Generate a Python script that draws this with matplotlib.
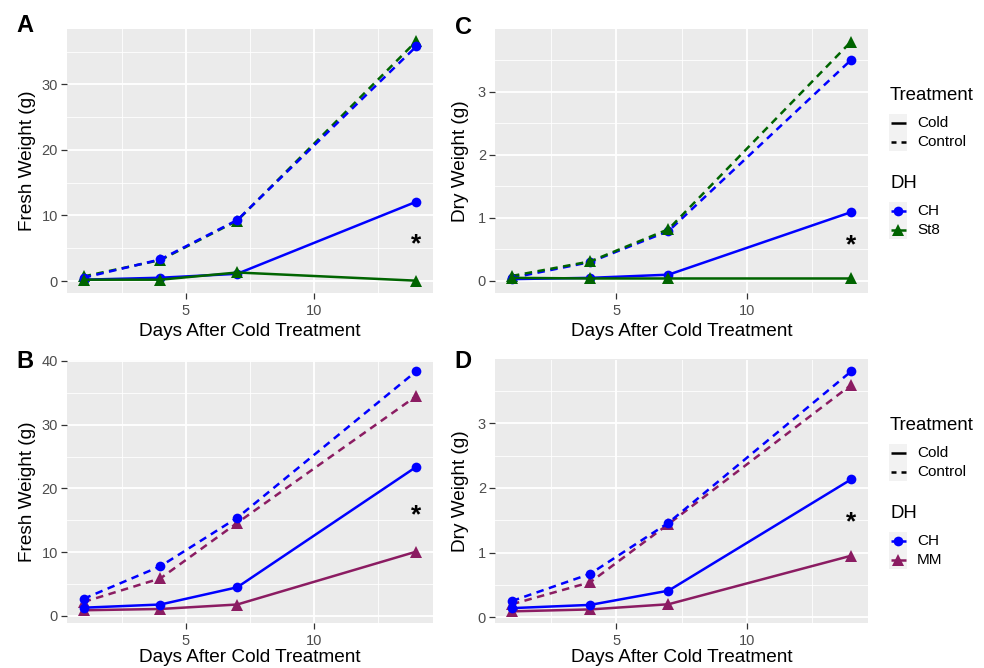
import matplotlib
matplotlib.use("Agg")
import matplotlib.pyplot as plt
from matplotlib.lines import Line2D
from matplotlib.patches import Rectangle

plt.rcParams['font.family'] = ['Liberation Sans', 'DejaVu Sans']

# ---------------- data ----------------
days = [1, 4, 7, 14]

# Panel A: Fresh weight, CH vs St8
A_CH_cold = [0.2, 0.5, 1.1, 12.1]
A_CH_control = [0.5, 3.3, 9.3, 35.8]
A_St8_cold = [0.2, 0.2, 1.3, 0.05]
A_St8_control = [0.7, 3.2, 9.2, 36.6]
A_star = 6.0

# Panel C: Dry weight, CH vs St8
C_CH_cold = [0.03, 0.05, 0.10, 1.09]
C_CH_control = [0.05, 0.30, 0.79, 3.50]
C_St8_cold = [0.05, 0.04, 0.04, 0.04]
C_St8_control = [0.08, 0.31, 0.82, 3.79]
C_star = 0.61

# Panel B: Fresh weight, CH vs MM
B_CH_cold = [1.3, 1.8, 4.5, 23.4]
B_CH_control = [2.7, 7.8, 15.4, 38.4]
B_MM_cold = [0.9, 1.1, 1.8, 10.1]
B_MM_control = [2.2, 5.9, 14.6, 34.5]
B_star = 16.2

# Panel D: Dry weight, CH vs MM
D_CH_cold = [0.14, 0.19, 0.41, 2.13]
D_CH_control = [0.25, 0.67, 1.46, 3.80]
D_MM_cold = [0.09, 0.12, 0.20, 0.95]
D_MM_control = [0.20, 0.54, 1.44, 3.59]
D_star = 1.5

treatments = ["Cold", "Control"]
dh_top = ["CH", "St8"]
dh_bottom = ["CH", "MM"]

BLUE = "#0000FF"
GREEN = "#006400"
MM_COL = "#8B1C62"

W, H = 984, 668
fig = plt.figure(figsize=(W / 100, H / 100), dpi=100)


def box(l, t, r, b):
    return [l / W, 1 - b / H, (r - l) / W, (b - t) / H]


def fx(x):
    return x / W


def fy(y):
    return 1 - y / H


LW = 1.8
DASH = (3.0, 2.2)
KEY_DASH = (2.0, 2.0)


def draw_series(ax, y, color, marker, dashed):
    ls = (0, DASH) if dashed else '-'
    ax.plot(days, y, color=color, lw=LW, linestyle=ls, marker=marker,
            markersize=7 if marker == 'o' else 8, markeredgewidth=0,
            solid_capstyle='butt', dash_capstyle='butt', zorder=3)


def style_axes(ax, ylim, yticks, yminor, ylabel, ylabel_x, xlabelpad=3.5):
    ax.set_facecolor('#EBEBEB')
    for s in ax.spines.values():
        s.set_visible(False)
    ax.set_xlim(0.35, 14.65)
    ax.set_ylim(*ylim)
    ax.set_xticks([5, 10])
    ax.set_xticks([2.5, 7.5, 12.5], minor=True)
    ax.set_yticks(yticks)
    ax.set_yticks(yminor, minor=True)
    ax.grid(True, which='major', color='white', lw=1.3)
    ax.grid(True, which='minor', color='white', lw=0.6)
    ax.set_axisbelow(True)
    ax.tick_params(which='major', length=4, width=0.9, color='#333333',
                   labelsize=10.5, labelcolor='#4D4D4D', pad=2.5)
    ax.tick_params(axis='x', which='major', pad=4.0)
    ax.tick_params(which='minor', length=0)
    ax.set_xlabel("Days After Cold Treatment", fontsize=13.7, labelpad=xlabelpad)
    ax.set_ylabel(ylabel, fontsize=13.7)
    ax.yaxis.set_label_coords(ylabel_x, 0.5)


def star(ax, y):
    ax.text(14, y, "*", fontsize=19, fontweight='bold', ha='center',
            va='center_baseline', color='black', zorder=4)


# Panel A
axA = fig.add_axes(box(67, 29, 433, 293))
style_axes(axA, (-1.83, 38.45), [0, 10, 20, 30], [5, 15, 25, 35],
           "Fresh Weight (g)", -0.085)
draw_series(axA, A_St8_control, GREEN, '^', True)
draw_series(axA, A_CH_control, BLUE, 'o', True)
draw_series(axA, A_CH_cold, BLUE, 'o', False)
draw_series(axA, A_St8_cold, GREEN, '^', False)
star(axA, A_star)

# Panel C
axC = fig.add_axes(box(495, 29, 868, 293))
style_axes(axC, (-0.19, 3.99), [0, 1, 2, 3], [0.5, 1.5, 2.5, 3.5],
           "Dry Weight (g)", -0.07)
draw_series(axC, C_CH_control, BLUE, 'o', True)
draw_series(axC, C_St8_control, GREEN, '^', True)
draw_series(axC, C_CH_cold, BLUE, 'o', False)
draw_series(axC, C_St8_cold, GREEN, '^', False)
star(axC, C_star)

# Panel B
axB = fig.add_axes(box(67, 360, 433, 623))
style_axes(axB, (-1.1, 40.15), [0, 10, 20, 30, 40], [5, 15, 25, 35],
           "Fresh Weight (g)", -0.085, xlabelpad=0.3)
draw_series(axB, B_MM_control, MM_COL, '^', True)
draw_series(axB, B_CH_control, BLUE, 'o', True)
draw_series(axB, B_MM_cold, MM_COL, '^', False)
draw_series(axB, B_CH_cold, BLUE, 'o', False)
star(axB, B_star)

# Panel D
axD = fig.add_axes(box(495, 359.5, 868, 623))
style_axes(axD, (-0.09, 3.985), [0, 1, 2, 3], [0.5, 1.5, 2.5, 3.5],
           "Dry Weight (g)", -0.07, xlabelpad=0.3)
draw_series(axD, D_MM_control, MM_COL, '^', True)
draw_series(axD, D_CH_control, BLUE, 'o', True)
draw_series(axD, D_MM_cold, MM_COL, '^', False)
draw_series(axD, D_CH_cold, BLUE, 'o', False)
star(axD, D_star)

# Panel letters
for letter, x, y in [("A", 25, 26), ("C", 463, 27), ("B", 25, 362), ("D", 463, 362)]:
    fig.text(fx(x), fy(y), letter, fontsize=17, fontweight='bold',
             ha='center', va='center')


# Legends
def legend(top, dh_labels, dh_colors, dh_markers):
    kx0, kx1 = 889, 907
    tx = 917
    fig.text(fx(890), fy(top), "Treatment", fontsize=13.4, ha='left', va='center')
    rows = [top + 27.5, top + 46]
    fig.patches.append(Rectangle((fx(kx0), fy(rows[1] + 9)), (kx1 - kx0) / W,
                                 (rows[1] - rows[0] + 18) / H,
                                 transform=fig.transFigure, facecolor='#F2F2F2',
                                 edgecolor='none'))
    for i, (lab, ry) in enumerate(zip(treatments, rows)):
        ls = '-' if i == 0 else (0, KEY_DASH)
        fig.add_artist(Line2D([fx(kx0 + 1.5), fx(kx1 - 1.5)], [fy(ry), fy(ry)],
                              color='black', lw=LW, linestyle=ls,
                              dash_capstyle='butt', solid_capstyle='butt',
                              transform=fig.transFigure))
        fig.text(fx(tx), fy(ry), lab, fontsize=11, ha='left', va='center')
    dtop = top + 88
    fig.text(fx(890), fy(dtop), "DH", fontsize=13.4, ha='left', va='center')
    rows2 = [dtop + 27.5, dtop + 46]
    fig.patches.append(Rectangle((fx(kx0), fy(rows2[1] + 9)), (kx1 - kx0) / W,
                                 (rows2[1] - rows2[0] + 18) / H,
                                 transform=fig.transFigure, facecolor='#F2F2F2',
                                 edgecolor='none'))
    for lab, ry, c, m in zip(dh_labels, rows2, dh_colors, dh_markers):
        fig.add_artist(Line2D([fx(kx0 + 1.5), fx(kx1 - 1.5)], [fy(ry), fy(ry)],
                              color=c, lw=LW, solid_capstyle='butt',
                              transform=fig.transFigure))
        fig.add_artist(Line2D([fx((kx0 + kx1) / 2)], [fy(ry)], color=c, lw=0,
                              marker=m, markersize=7 if m == 'o' else 8,
                              markeredgewidth=0, transform=fig.transFigure))
        fig.text(fx(tx), fy(ry), lab, fontsize=11, ha='left', va='center')


legend(95.5, dh_top, [BLUE, GREEN], ['o', '^'])
legend(425.5, dh_bottom, [BLUE, MM_COL], ['o', '^'])

fig.savefig("out.png", dpi=100, facecolor='white')
